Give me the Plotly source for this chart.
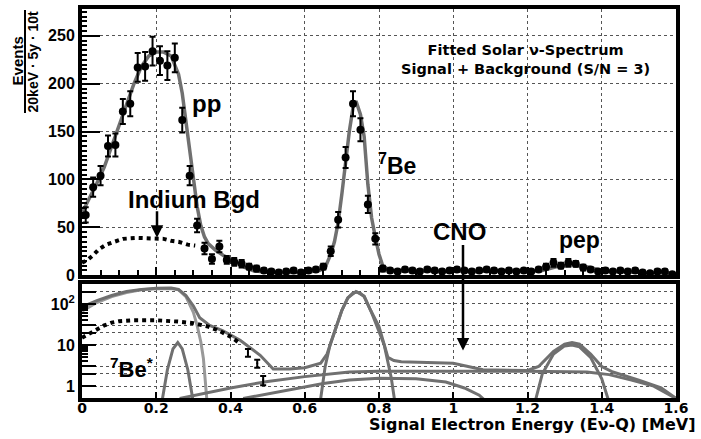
import numpy as np
import plotly.graph_objects as go

# ---- data ----
# 20 keV bins (bin centres) for the simulated measurement
bin_x = np.round(np.arange(0.01, 1.6, 0.02), 2)
counts = [63, 92, 104, 135, 136, 171, 179, 217, 218, 234,
          224, 219, 227, 162, 104, 52, 28, 17, 30, 16,
          14, 12, 9, 7, 5, 4, 3, 4, 5, 3,
          5, 6, 9, 25, 58, 123, 179, 152, 74, 38,
          7, 5, 4, 6, 5, 4, 6, 5, 4, 5,
          6, 5, 4, 5, 6, 5, 4, 5, 4, 5,
          4, 6, 9, 13, 10, 13, 12, 8, 6, 4,
          5, 4, 5, 4, 5, 3, 2, 4, 4, 1]
count_err = [8, 10, 10, 11, 12, 13, 13, 15, 15, 15,
             15, 15, 15, 13, 10, 7, 6, 5, 6, 4,
             4, 4, 3, 3, 2, 2, 2, 2, 2, 2,
             2, 2, 3, 5, 8, 11, 13, 12, 9, 6,
             3, 2, 2, 2, 2, 2, 2, 2, 2, 2,
             2, 2, 2, 2, 2, 2, 2, 2, 2, 2,
             2, 2, 3, 4, 3, 4, 3, 3, 2, 2,
             2, 2, 2, 2, 2, 2, 1, 2, 2, 1]

# fitted total (linear panel)
fit_x = [0.0, 0.02, 0.04, 0.06, 0.08, 0.10, 0.12, 0.14, 0.16, 0.18, 0.20, 0.22,
         0.24, 0.26, 0.27, 0.28, 0.29, 0.30, 0.31, 0.32, 0.33, 0.34, 0.36, 0.38,
         0.40, 0.42, 0.44, 0.46, 0.48, 0.52, 0.60, 0.62, 0.64, 0.655, 0.67, 0.68,
         0.69, 0.70, 0.71, 0.72, 0.73, 0.738, 0.75, 0.76, 0.77, 0.78, 0.79, 0.80,
         0.81, 0.83, 0.86, 1.00, 1.20, 1.24, 1.28, 1.32, 1.36, 1.40, 1.44, 1.50, 1.60]
fit_y = [65, 80, 96, 113, 135, 158, 180, 200, 218, 229, 233, 233,
         229, 210, 190, 160, 128, 98, 72, 52, 40, 33, 26, 21,
         16, 12, 8, 5, 4, 3, 3, 4, 5, 8, 22, 35,
         55, 85, 118, 150, 175, 182, 168, 145, 95, 60, 40, 22,
         10, 5, 4.5, 4.5, 4, 5, 9, 11, 9, 5, 4, 3, 2]

# indium background (dotted)
ind_x = [0.0, 0.015, 0.03, 0.045, 0.065, 0.085, 0.11, 0.15, 0.20, 0.22, 0.24, 0.26, 0.285, 0.305]
ind_y = [13, 16, 21, 27, 32, 35, 38, 39, 39, 38, 36, 35, 32, 31]

# log panel: total, pp, 7Be*, 7Be, two continuum components, pep
tot_x = [0.0, 0.04, 0.08, 0.12, 0.16, 0.20, 0.24, 0.26, 0.28, 0.30, 0.317, 0.344,
         0.38, 0.426, 0.48, 0.515, 0.56, 0.60, 0.643, 0.66, 0.678, 0.70, 0.716,
         0.738, 0.76, 0.778, 0.80, 0.824, 0.84, 0.86, 1.00, 1.04, 1.08, 1.20,
         1.23, 1.27, 1.30, 1.32, 1.34, 1.37, 1.40, 1.43, 1.50, 1.56, 1.60]
tot_y = [85, 120, 160, 200, 225, 240, 243, 225, 160, 89, 46, 30,
         22, 13, 5.6, 2.6, 2.6, 2.8, 3.6, 6, 18, 70, 140,
         200, 155, 68, 28, 5, 4.2, 3.9, 3.6, 3.0, 2.5, 2.4,
         3, 7, 10.5, 11.5, 10.5, 6, 3, 2.2, 1.4, 0.9, 0.5]

pp_x = [0.0, 0.04, 0.08, 0.12, 0.16, 0.20, 0.24, 0.26, 0.28, 0.30, 0.31, 0.32, 0.327, 0.336]
pp_y = [66, 108, 150, 190, 220, 235, 236, 220, 150, 62, 30, 12, 4.7, 0.5]

be7s_x = [0.215, 0.23, 0.245, 0.258, 0.27, 0.285, 0.30]
be7s_y = [0.4, 2.5, 8, 11.5, 8, 2.5, 0.4]

be7_x = [0.643, 0.655, 0.668, 0.678, 0.69, 0.70, 0.716, 0.73, 0.74, 0.75, 0.76, 0.778, 0.795, 0.814, 0.833, 0.842]
be7_y = [0.5, 3, 10, 18, 40, 70, 140, 185, 195, 180, 150, 68, 28, 10, 1.6, 0.45]

cmpa_x = [0.263, 0.40, 0.50, 0.60, 0.72, 0.80, 1.00, 1.20, 1.36, 1.42, 1.48, 1.54, 1.60]
cmpa_y = [0.5, 0.9, 1.3, 1.7, 2.2, 2.3, 2.3, 2.3, 2.2, 1.9, 1.4, 1.0, 0.5]

cmpb_x = [0.434, 0.55, 0.65, 0.72, 0.80, 0.90, 0.98, 1.03, 1.07, 1.085]
cmpb_y = [0.5, 0.8, 1.15, 1.4, 1.55, 1.5, 1.25, 0.9, 0.6, 0.45]

pep_x = [1.22, 1.24, 1.27, 1.30, 1.32, 1.34, 1.37, 1.40, 1.42]
pep_y = [0.4, 2, 6, 9.5, 10, 9, 5, 1.5, 0.4]

indl_x = [0.0, 0.02, 0.04, 0.06, 0.08, 0.10, 0.14, 0.20, 0.26, 0.30, 0.34, 0.37, 0.40, 0.425]
indl_y = [15, 19, 24, 30, 35, 38, 40, 40, 37, 34, 28, 22, 16, 11]
indpt_x = [0.447, 0.472, 0.488]
indpt_y = [6.6, 3.6, 1.4]
indpt_err = [1.4, 0.8, 0.35]

GRAY = "#707070"
LIGHT = "#999999"
FONT = "Liberation Sans"
WIDE = "DejaVu Sans"

fig = go.Figure()

# top panel
fig.add_trace(go.Scatter(x=ind_x, y=ind_y, mode="lines",
                         line=dict(color="black", width=4, dash="4px,4px"), xaxis="x", yaxis="y"))
fig.add_trace(go.Scatter(x=fit_x, y=fit_y, mode="lines",
                         line=dict(color=GRAY, width=3.5), xaxis="x", yaxis="y"))
fig.add_trace(go.Scatter(x=bin_x, y=counts, mode="markers",
                         marker=dict(color="black", size=8),
                         error_y=dict(type="data", array=count_err, color="black", thickness=2, width=3),
                         xaxis="x", yaxis="y"))

# bottom (log) panel
for xs, ys, col in [(pp_x, pp_y, LIGHT), (be7s_x, be7s_y, GRAY), (be7_x, be7_y, GRAY),
                    (cmpa_x, cmpa_y, GRAY), (cmpb_x, cmpb_y, GRAY), (pep_x, pep_y, GRAY),
                    (tot_x, tot_y, GRAY)]:
    fig.add_trace(go.Scatter(x=xs, y=ys, mode="lines", line=dict(color=col, width=3),
                             xaxis="x2", yaxis="y2"))
fig.add_trace(go.Scatter(x=indl_x, y=indl_y, mode="lines",
                         line=dict(color="black", width=4, dash="4px,4px"), xaxis="x2", yaxis="y2"))
fig.add_trace(go.Scatter(x=indpt_x, y=indpt_y, mode="markers",
                         marker=dict(color="black", size=2),
                         error_y=dict(type="data", array=indpt_err, color="black", thickness=2, width=3),
                         xaxis="x2", yaxis="y2"))

ytickfont = dict(family=FONT, size=16, color="black", weight="bold")
xtickfont = dict(family=WIDE, size=14, color="black", weight="bold")
frame = dict(showline=True, linewidth=4, linecolor="black", mirror=True)
grid = dict(showgrid=True, gridcolor="#555", gridwidth=1, griddash="dot", zeroline=False)

fig.update_layout(
    width=701, height=439,
    margin=dict(l=82, r=25, t=5, b=41),
    paper_bgcolor="white", plot_bgcolor="white",
    showlegend=False,
    xaxis=dict(domain=[0, 1], anchor="y", range=[0, 1.6], dtick=0.2, showticklabels=False,
               ticks="inside", ticklen=8, tickwidth=2, tickcolor="black",
               minor=dict(dtick=0.05, ticks="inside", ticklen=5, tickcolor="black"),
               **frame, **grid),
    yaxis=dict(domain=[0.3155, 1], anchor="x", range=[0, 278], dtick=50, tickfont=ytickfont,
               ticks="inside", ticklen=18, tickwidth=2, tickcolor="black",
               minor=dict(dtick=5, ticks="inside", ticklen=5, tickcolor="black"),
               **frame, **grid),
    xaxis2=dict(domain=[0, 1], anchor="y2", range=[0, 1.6], dtick=0.2, tickfont=xtickfont,
                ticks="inside", ticklen=6, tickwidth=2, tickcolor="black",
                ticklabelstandoff=-6,
                **frame, **grid),
    yaxis2=dict(domain=[0, 0.2926], anchor="x2", type="log", range=[-0.29, 2.48],
                tickmode="array", tickvals=[1, 2, 3, 10, 20, 30, 100, 200],
                ticktext=["1", "", "", "10", "", "", "10<sup>2</sup>", ""], tickfont=ytickfont,
                ticks="inside", ticklen=14, tickwidth=2, tickcolor="black",
                minor=dict(tickmode="array",
                           tickvals=[4, 5, 6, 7, 8, 9, 40, 50, 60, 70, 80, 90],
                           ticks="inside", ticklen=6, tickcolor="black", showgrid=False),
                **frame, **grid),
)


def label(text, x, y, size, anchor="center", family=FONT):
    fig.add_annotation(text=f"<b>{text}</b>", x=x, y=y, xref="paper", yref="paper",
                       xanchor=anchor, yanchor="middle", showarrow=False,
                       font=dict(family=family, size=size, color="black"))


label("pp", 0.2104, 0.758, 24)
label("Indium Bgd", 0.074, 0.509, 24, "left")
label("<sup>7</sup>Be", 0.495, 0.6005, 23, "left")
label("CNO", 0.636, 0.4275, 24)
label("pep", 0.838, 0.407, 23)
label("Fitted Solar ν-Spectrum<br>Signal + Background (S/N = 3)",
      0.747, (398 - 56) / 393, 14.5, family=WIDE)
label("<sup>7</sup>Be<sup>*</sup>", 0.0438, 0.0763, 22, "left")
label("Signal Electron Energy (Eν-Q) [MeV]", 1.037, (398 - 425) / 393, 16, "right", WIDE)

# y-axis title as a fraction
for txt, px, sz in [("Events", 17, 15), ("20keV · 5y · 10t", 33, 14)]:
    fig.add_annotation(text=f"<b>{txt}</b>", x=(px - 82) / 594, y=(398 - 58) / 393,
                       xref="paper", yref="paper", xanchor="center", yanchor="middle",
                       textangle=-90, showarrow=False,
                       font=dict(family=FONT, size=sz, color="black"))
fig.add_shape(type="line", xref="paper", yref="paper",
              x0=(25 - 82) / 594, x1=(25 - 82) / 594, y0=(398 - 6) / 393, y1=(398 - 110) / 393,
              line=dict(color="black", width=2))

# arrows
fig.add_annotation(text="", x=(157 - 82) / 594, y=(398 - 236) / 393, xref="paper", yref="paper",
                   ax=0, ay=-28, showarrow=True, arrowhead=2, arrowsize=1, arrowwidth=2.5,
                   arrowcolor="black")
fig.add_annotation(text="", x=(463 - 82) / 594, y=(398 - 350) / 393, xref="paper", yref="paper",
                   ax=0, ay=-107, showarrow=True, arrowhead=2, arrowsize=1, arrowwidth=2.5,
                   arrowcolor="black")

fig.write_html("out.html", config={"displayModeBar": False},
               post_script="document.body.style.margin='0';")
